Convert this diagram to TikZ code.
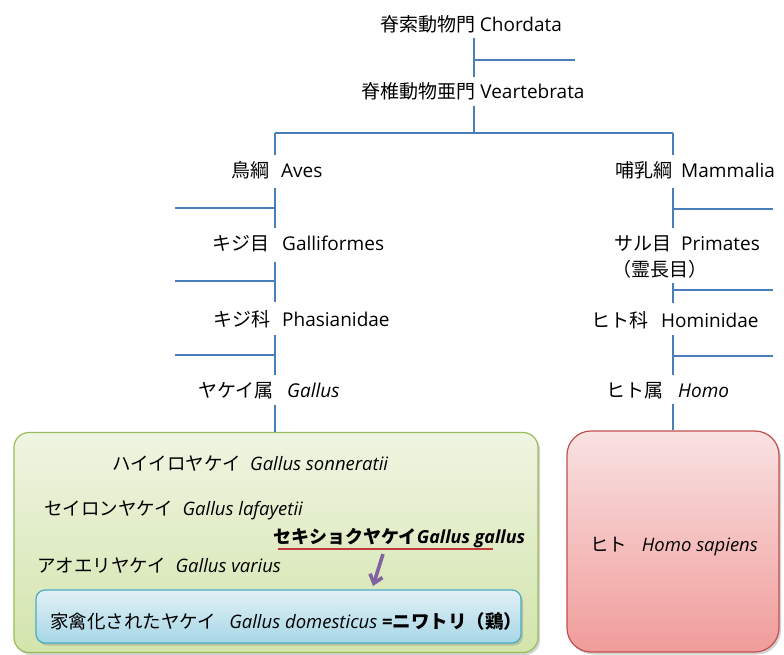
\documentclass[tikz,border=0pt]{standalone}
\usepackage{fontspec}
\setmainfont{Open Sans}
\newfontfamily\jp{Noto Sans CJK JP}
\usetikzlibrary{shadows,arrows.meta}
\definecolor{lineblue}{HTML}{4A7EBB}
\definecolor{gtop}{HTML}{EFF5E2}
\definecolor{gbot}{HTML}{D3E4AC}
\definecolor{gdraw}{HTML}{9BBB59}
\definecolor{btop}{HTML}{E2F1F6}
\definecolor{bbot}{HTML}{A6D6E6}
\definecolor{bdraw}{HTML}{4BACC6}
\definecolor{rtop}{HTML}{F9E2E2}
\definecolor{rbot}{HTML}{F09C9A}
\definecolor{rdraw}{HTML}{C0504D}
\definecolor{uline}{HTML}{C03A3A}
\definecolor{purp}{HTML}{8064A2}
\begin{document}
\begin{tikzpicture}[x=1pt,y=-1pt,
  treeline/.style={draw=lineblue, line width=1.4pt},
  jpl/.style={anchor=base east, inner sep=0pt, font=\fontsize{19}{22}\jp},
  latl/.style={anchor=base west, inner sep=0pt, font=\fontsize{19}{22}\selectfont},
  ctr/.style={anchor=base, inner sep=0pt, font=\fontsize{19}{22}\selectfont},
  spec/.style={anchor=base west, inner sep=0pt, font=\fontsize{18.5}{22}\selectfont},
  boxshadow/.style={drop shadow={opacity=0.35, shadow xshift=2pt, shadow yshift=-2.5pt}}
]
\useasboundingbox (0,0) rectangle (784,655);

% boxes
\node[boxshadow, draw=gdraw, line width=1.2pt, rounded corners=15pt, top color=gtop, bottom color=gbot,
      minimum width=524pt, minimum height=220pt, inner sep=0pt] (gbox) at (276,542.5) {};
\node[boxshadow, draw=rdraw, line width=1.2pt, rounded corners=24pt, top color=rtop, bottom color=rbot,
      minimum width=212pt, minimum height=221pt, inner sep=0pt] (rbox) at (673,541.5) {};
\node[boxshadow, draw=bdraw, line width=1.2pt, rounded corners=9pt, top color=btop, bottom color=bbot,
      minimum width=485pt, minimum height=53pt, inner sep=0pt] (dbox) at (278.5,616.5) {};

% top labels
\node[ctr] (chordata) at (471,32) {{\jp 脊索動物門} Chordata};
\node[ctr] (vertebrata) at (473,99) {{\jp 脊椎動物亜門} Veartebrata};

% left labels
\node[jpl] (avesj) at (270,178) {鳥綱};
\node[latl] (aves) at (281,178) {Aves};
\node[jpl] (galj) at (270,250) {キジ目};
\node[latl] (gal) at (282,250) {Galliformes};
\node[jpl] (phaj) at (271,326) {キジ科};
\node[latl] (pha) at (282,326) {Phasianidae};
\node[jpl] (gallusj) at (274,397) {ヤケイ属};
\node[latl] (gallus) at (287,397) {\itshape Gallus};

% right labels
\node[jpl] (mamj) at (673,178) {哺乳綱};
\node[latl] (mam) at (681,178) {Mammalia};
\node[jpl] (prij) at (672,250) {サル目};
\node[latl] (pri) at (681,250) {Primates};
\node[anchor=base west, inner sep=0pt, font=\fontsize{19}{22}\jp] (prij2) at (612,276) {（霊長目）};
\node[jpl] (homj) at (649,327) {ヒト科};
\node[latl] (hom) at (661,327) {Hominidae};
\node[jpl] (homoj) at (664,397) {ヒト属};
\node[latl] (homo) at (678,397) {\itshape Homo};

% tree lines
\coordinate (c1) at (474,38);
\coordinate (c2) at (474,77);
\coordinate (c3) at (474,60);
\coordinate (c4) at (575,60);
\draw[treeline] (c1) -- (c2);
\draw[treeline] (c3) -- (c4);
\coordinate (v1) at (474,106);
\coordinate (v2) at (474,133);
\coordinate (hl) at (275,133);
\coordinate (hr) at (673,133);
\draw[treeline] (v1) -- (v2);
\draw[treeline] (hl) -- (hr);
\draw[treeline] (hl) -- (275,155);
\draw[treeline] (hr) -- (673,155);
% left chain
\draw[treeline] (275,188) -- (275,228);
\draw[treeline] (175,208) -- (275,208);
\draw[treeline] (275,262) -- (275,302);
\draw[treeline] (175,281) -- (275,281);
\draw[treeline] (275,335) -- (275,375);
\draw[treeline] (175,355) -- (275,355);
\draw[treeline] (275,405) -- (gbox.north -| 275,0);
% right chain
\draw[treeline] (673,188) -- (673,228);
\draw[treeline] (673,209) -- (773,209);
\draw[treeline] (673,283) -- (673,303);
\draw[treeline] (673,290) -- (773,290);
\draw[treeline] (673,335) -- (673,375);
\draw[treeline] (673,356) -- (773,356);
\draw[treeline] (673,404) -- (rbox.north);

% species in green box
\node[spec] (sonn) at (112,470) {{\jp ハイイロヤケイ}\hspace{0.5em}\itshape Gallus sonneratii};
\node[spec] (lafa) at (44,515) {{\jp セイロンヤケイ}\hspace{0.5em}\itshape Gallus lafayetii};
\node[spec, font=\fontsize{18}{22}\selectfont\bfseries] (ggal) at (273,543) {{\jp\bfseries セキショクヤケイ}\itshape Gallus gallus};
\node[spec] (vari) at (37,572) {{\jp アオエリヤケイ}\hspace{0.5em}\itshape Gallus varius};
\node[spec] (dome) at (50,628) {{\jp 家禽化されたヤケイ}\hspace{0.7em}{\itshape Gallus domesticus} {\bfseries =}{\jp\bfseries ニワトリ（鶏）}};
\node[anchor=base, inner sep=0pt, font=\fontsize{18.5}{22}\selectfont] (sap) at (674,551) {{\jp ヒト}\hspace{0.8em}\itshape Homo sapiens};

% underline and arrow
\coordinate (u1) at (278,549);
\coordinate (u2) at (493,549);
\draw[draw=uline, line width=1.2pt] (u1) -- (u2);
\coordinate (a1) at (383,554);
\coordinate (a2) at (373,586);
\draw[draw=purp, line width=3.6pt, -{Straight Barb[length=8pt,width=13pt]}] (a1) -- (a2);
\end{tikzpicture}
\end{document}
